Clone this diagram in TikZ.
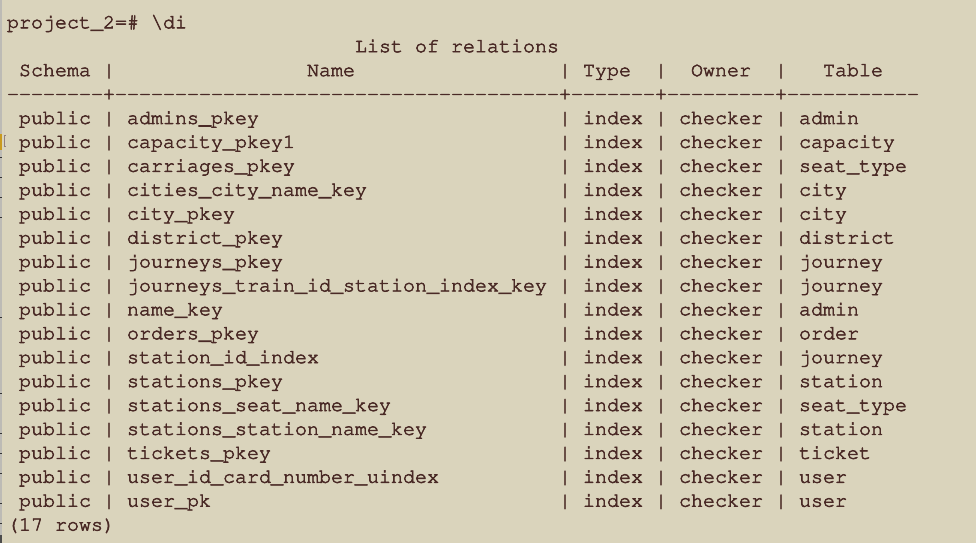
\documentclass[tikz,border=0pt]{standalone}
\usepackage[T1]{fontenc}
\usepackage{xcolor}
\definecolor{termbg}{HTML}{DAD4BC}
\definecolor{termfg}{HTML}{4A2A26}
\definecolor{markyellow}{HTML}{C99A1E}
\definecolor{stripgrey}{HTML}{BDBBB5}
\tikzset{
  term/.style={anchor=base west, inner sep=0pt, outer sep=0pt, text=termfg,
    font=\fontfamily{pcr}\fontseries{m}\fontsize{20}{24}\selectfont,
    execute at begin node={\special{pdf:literal direct 0.290 0.165 0.149 RG 2 Tr 0.55 w}},
    execute at end node={\special{pdf:literal direct 0 Tr}}},
  tickmark/.style={draw=black!80, line width=0.9pt},
}
\newcommand{\tc}[4]{\node[term] (#1) at ({7+12*#2},{28.3+23.92*#3}) {#4};}
\begin{document}
\begin{tikzpicture}[x=1pt,y=-1pt]
\fill[termbg] (0,0) rectangle (976,543);
\useasboundingbox (0,0) rectangle (976,543);
% left edge of the window
\fill[stripgrey] (0,0) rectangle (2,543);
\fill[markyellow] (0,134) rectangle (2,150);
\draw[draw=termfg!60, line width=0.6pt] (6,135.5) -- (4,135.5) -- (4,146.5) -- (6,146.5);
\foreach \yy in {157,177,197,217,317,393,433,453,473,503,523}{
  \draw[tickmark] (0,\yy) -- (2,\yy);
}
\fill[black!70] (0,535) rectangle (1.5,543);
% prompt and title
\tc{prompt}{0}{0}{project\_2=\#}
\tc{cmd}{12}{0}{\textbackslash di}
\tc{t1}{29}{1}{List}
\tc{t2}{34}{1}{of}
\tc{t3}{37}{1}{relations}
% header
\tc{hschema}{1}{2}{Schema}
\tc{hb1}{8}{2}{|}
\tc{hname}{25}{2}{Name}
\tc{hb2}{46}{2}{|}
\tc{htype}{48}{2}{Type}
\tc{hb3}{54}{2}{|}
\tc{howner}{57}{2}{Owner}
\tc{hb4}{64}{2}{|}
\tc{htable}{68}{2}{Table}
% separator line
\foreach \k in {0,...,75}{
  \ifnum\k=8 \def\ch{+}\else\ifnum\k=46 \def\ch{+}\else\ifnum\k=54 \def\ch{+}\else\ifnum\k=64 \def\ch{+}\else\def\ch{-}\fi\fi\fi\fi
  \node[term] (d\k) at ({7+12*\k},{28.3+23.92*3}) {\ch};
}
% rows
\foreach \nm/\tb [count=\i] in {
  admins\_pkey/admin,
  capacity\_pkey1/capacity,
  carriages\_pkey/seat\_type,
  cities\_city\_name\_key/city,
  city\_pkey/city,
  district\_pkey/district,
  journeys\_pkey/journey,
  journeys\_train\_id\_station\_index\_key/journey,
  name\_key/admin,
  orders\_pkey/order,
  station\_id\_index/journey,
  stations\_pkey/station,
  stations\_seat\_name\_key/seat\_type,
  stations\_station\_name\_key/station,
  tickets\_pkey/ticket,
  user\_id\_card\_number\_uindex/user,
  user\_pk/user}{
  \pgfmathtruncatemacro{\ln}{\i+3}
  \tc{s\i}{1}{\ln}{public}
  \tc{ba\i}{8}{\ln}{|}
  \tc{n\i}{10}{\ln}{\nm}
  \tc{bb\i}{46}{\ln}{|}
  \tc{ty\i}{48}{\ln}{index}
  \tc{bc\i}{54}{\ln}{|}
  \tc{o\i}{56}{\ln}{checker}
  \tc{bd\i}{64}{\ln}{|}
  \tc{tb\i}{66}{\ln}{\tb}
}
% footer
\tc{f1}{0}{21}{(17}
\tc{f2}{4}{21}{rows)}
\end{tikzpicture}
\end{document}
